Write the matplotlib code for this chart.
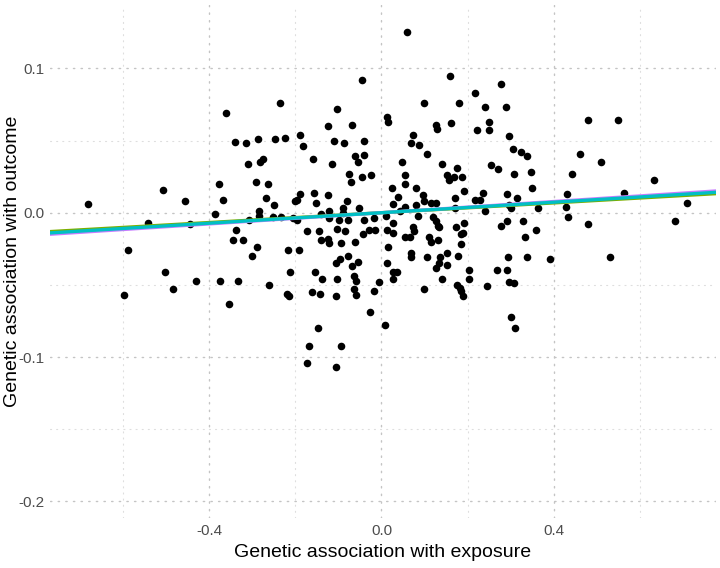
import matplotlib
matplotlib.use("Agg")
import matplotlib.pyplot as plt
from matplotlib.ticker import FixedLocator

plt.rcParams['font.family'] = ['Liberation Sans', 'DejaVu Sans']

# ---- data ----
exposure = [
    -0.362, -0.235, -0.045, -0.103, -0.124, -0.069, 0.012, 0.014, -0.339, -0.314,
    -0.286, -0.247, -0.224, -0.189, -0.183, -0.111, -0.086, -0.040,
    0.059, 0.159, 0.277, 0.218, 0.099, 0.180, 0.240, 0.289, 0.127, 0.128,
    0.161, 0.250, 0.222, 0.250, 0.074, 0.297, 0.068, 0.088,
    0.480, 0.550,
    -0.681, -0.507, -0.588, -0.541, -0.456, -0.445, -0.377, -0.367, -0.386,
    -0.598, -0.503, -0.485, -0.431, -0.375, -0.354,
    -0.309, -0.282, -0.276, -0.158, -0.116, -0.062, -0.040, -0.054, -0.075, -0.071, -0.046, -0.025,
    -0.291, -0.264, -0.269, -0.249, -0.189, -0.195, -0.201, -0.156, -0.152, -0.124, -0.080, 0.024, 0.027,
    -0.284, -0.284, -0.308, -0.251, -0.233, -0.205, -0.195, -0.140, -0.122, -0.122,
    -0.089, -0.089, -0.098, -0.077, -0.052, -0.040, -0.017, 0.010, 0.027,
    -0.338, -0.345, -0.321, -0.289, -0.300, -0.216, -0.192, -0.172, -0.144, -0.141,
    -0.124, -0.122, -0.104, -0.085, -0.094, -0.062, -0.042, -0.029, -0.014, 0.012,
    0.026, 0.014, -0.096, -0.077,
    0.105, 0.047, 0.140, 0.175, 0.151, 0.157, 0.168, 0.186, 0.055, 0.055,
    0.079, 0.039, 0.097, 0.098, 0.114, 0.127, 0.080, 0.055, 0.043, 0.084,
    0.192, 0.171, 0.171, 0.217, 0.236, 0.229, 0.241, 0.254, 0.271, 0.308,
    0.305, 0.324, 0.338, 0.348, 0.349, 0.291, 0.314, 0.297, 0.301, 0.363,
    0.074, 0.076, 0.120, 0.127, 0.131, 0.134, 0.173, 0.192, 0.190, 0.055,
    0.066, 0.111, 0.114, 0.132, 0.184, 0.184, 0.069, 0.069, 0.106, 0.136,
    0.153, 0.178,
    0.277, 0.291, 0.329, 0.358, 0.334, 0.294, 0.337, 0.391,
    0.461, 0.510, 0.442, 0.431, 0.428, 0.433, 0.479, 0.563, 0.633, 0.681, 0.709, 0.530,
    -0.332, -0.260, -0.212, -0.219, -0.214, -0.154, -0.137, -0.161, -0.143, -0.106,
    -0.103, -0.106, -0.054, -0.069, -0.063, -0.060, -0.063, -0.059, -0.018, -0.006,
    0.013, 0.026, 0.027, -0.027, 0.007, -0.148, -0.168, -0.095, -0.173, -0.106,
    0.035, 0.126, 0.134, 0.151, 0.140, 0.099, 0.176, 0.182, 0.185, 0.190,
    0.204, 0.202, 0.244, 0.267, 0.292, 0.297, 0.308, 0.300, 0.311,
]

outcome = [
    0.069, 0.076, 0.092, 0.072, 0.060, 0.061, 0.066, 0.063, 0.049, 0.048,
    0.051, 0.051, 0.052, 0.054, 0.046, 0.050, 0.048, 0.050,
    0.125, 0.095, 0.089, 0.083, 0.076, 0.076, 0.073, 0.073, 0.061, 0.058,
    0.062, 0.063, 0.057, 0.057, 0.054, 0.053, 0.048, 0.047,
    0.064, 0.064,
    0.006, 0.016, -0.026, -0.007, 0.008, -0.008, 0.020, 0.009, -0.001,
    -0.057, -0.041, -0.053, -0.047, -0.047, -0.063,
    0.034, 0.035, 0.037, 0.037, 0.034, 0.039, 0.040, 0.035, 0.027, 0.021, 0.025, 0.026,
    0.021, 0.020, 0.010, 0.005, 0.013, 0.009, 0.008, 0.014, 0.007, 0.012, 0.008, 0.017, 0.006,
    0.001, -0.002, -0.005, -0.003, -0.003, -0.004, -0.005, -0.001, 0.001, -0.004,
    0.003, 0.000, -0.005, -0.005, 0.003, -0.005, -0.004, -0.002, -0.007,
    -0.012, -0.019, -0.019, -0.024, -0.030, -0.026, -0.026, -0.013, -0.013, -0.019,
    -0.018, -0.021, -0.011, -0.013, -0.021, -0.020, -0.015, -0.012, -0.012, -0.012,
    -0.014, -0.024, -0.032, -0.030,
    0.041, 0.035, 0.034, 0.031, 0.026, 0.023, 0.025, 0.025, 0.026, 0.020,
    0.017, 0.011, 0.012, 0.008, 0.007, 0.007, 0.005, 0.004, 0.001, -0.002,
    0.015, 0.010, 0.003, 0.009, 0.014, 0.009, 0.001, 0.033, 0.030, 0.027,
    0.044, 0.042, 0.039, 0.028, 0.017, 0.013, 0.010, 0.005, 0.003, 0.003,
    -0.010, -0.013, -0.003, -0.006, -0.009, -0.010, -0.010, -0.007, -0.014, -0.017,
    -0.017, -0.017, -0.020, -0.019, -0.015, -0.022, -0.028, -0.031, -0.031, -0.031,
    -0.028, -0.030,
    -0.009, -0.006, -0.006, -0.012, -0.017, -0.031, -0.031, -0.032,
    0.041, 0.035, 0.027, 0.013, 0.004, -0.003, -0.008, 0.014, 0.023, -0.006, 0.007, -0.031,
    -0.047, -0.050, -0.041, -0.056, -0.058, -0.041, -0.046, -0.055, -0.056, -0.058,
    -0.046, -0.035, -0.034, -0.037, -0.044, -0.047, -0.053, -0.057, -0.054, -0.048,
    -0.035, -0.041, -0.046, -0.069, -0.078, -0.080, -0.092, -0.092, -0.104, -0.107,
    -0.041, -0.038, -0.035, -0.036, -0.046, -0.053, -0.050, -0.052, -0.054, -0.058,
    -0.040, -0.046, -0.051, -0.040, -0.040, -0.048, -0.049, -0.072, -0.080,
]

# regression lines (method estimates): slope, intercept, colour
method_slopes = [0.0170, 0.0194, 0.0182]
method_intercepts = [0.0, 0.0, 0.0]
method_colors = ['#7CAE00', '#C77CFF', '#00BFC4']

x_major = [-0.4, 0.0, 0.4]
x_major_labels = ['-0.4', '0.0', '0.4']
x_minor = [-0.6, -0.2, 0.2, 0.6]
y_major = [-0.2, -0.1, 0.0, 0.1]
y_major_labels = ['-0.2', '-0.1', '0.0', '0.1']
y_minor = [-0.15, -0.05, 0.05, 0.15]

assert len(exposure) == len(outcome)

fig = plt.figure(figsize=(7.2, 5.68), dpi=100)
ax = fig.add_axes([50 / 720, 50 / 568, 666 / 720, 513 / 568])

ax.set_xlim(-0.7695, 0.7765)
ax.set_ylim(-0.2115, 0.1439)

ax.xaxis.set_major_locator(FixedLocator(x_major))
ax.xaxis.set_minor_locator(FixedLocator(x_minor))
ax.yaxis.set_major_locator(FixedLocator(y_major))
ax.yaxis.set_minor_locator(FixedLocator(y_minor))
ax.set_xticklabels(x_major_labels)
ax.set_yticklabels(y_major_labels)

ax.grid(which='major', color='#c4c4c4', linestyle=(0, (1, 4.5)), linewidth=1.0, dash_capstyle='round')
ax.grid(which='minor', color='#dedede', linestyle=(0, (1, 4.5)), linewidth=0.8, dash_capstyle='round')
ax.set_axisbelow(True)

for s in ax.spines.values():
    s.set_visible(False)
ax.tick_params(which='both', length=0)
ax.tick_params(which='major', labelsize=11, labelcolor='#4d4d4d', pad=4)

ax.scatter(exposure, outcome, s=30, color='black', linewidths=0, zorder=3)

for slope, icpt, col in zip(method_slopes, method_intercepts, method_colors):
    ax.axline((0, icpt), slope=slope, color=col, linewidth=2.4, zorder=4)

ax.set_xlabel('Genetic association with exposure', fontsize=14, color='black')
ax.set_ylabel('Genetic association with outcome', fontsize=14, color='black')
ax.xaxis.set_label_coords(0.5, -0.068)
ax.yaxis.set_label_coords(-0.057, 0.5)
ax.yaxis.label.set_verticalalignment('center')
ax.xaxis.label.set_verticalalignment('center')

fig.savefig('out.png', dpi=100)
